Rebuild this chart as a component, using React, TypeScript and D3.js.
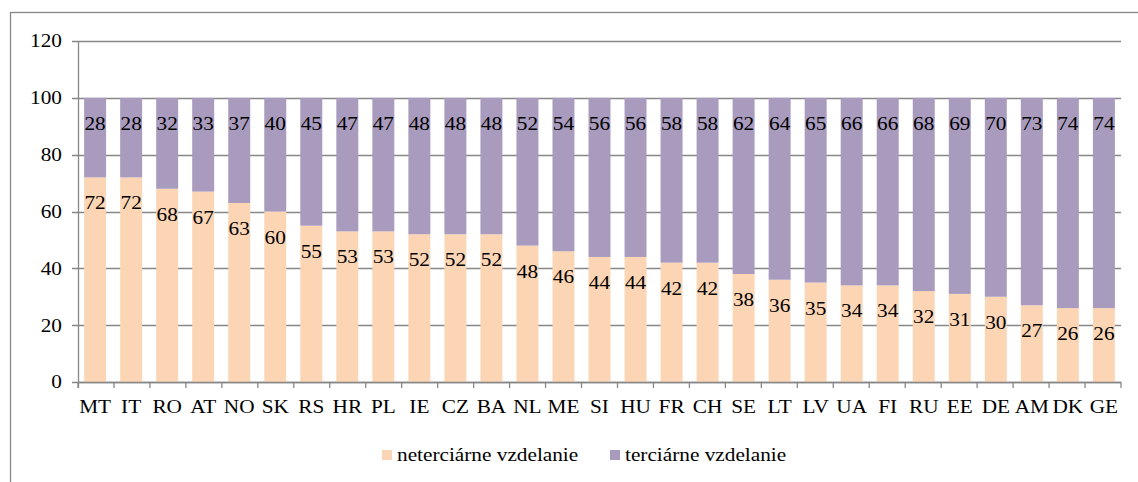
import React from "react";
import { scaleBand, scaleLinear, stack, range } from "d3";

const width = 1138;
const height = 482;
const margin = { top: 41, right: 17, bottom: 100, left: 78 };
const fontFamily = "Liberation Serif";
const fontSize = 19;
const stretch = 1.12;

const countries = [
  "MT", "IT", "RO", "AT", "NO", "SK", "RS", "HR", "PL", "IE",
  "CZ", "BA", "NL", "ME", "SI", "HU", "FR", "CH", "SE", "LT",
  "LV", "UA", "FI", "RU", "EE", "DE", "AM", "DK", "GE",
];
const nonTertiary = [
  72, 72, 68, 67, 63, 60, 55, 53, 53, 52,
  52, 52, 48, 46, 44, 44, 42, 42, 38, 36,
  35, 34, 34, 32, 31, 30, 27, 26, 26,
];
const tertiary = [
  28, 28, 32, 33, 37, 40, 45, 47, 47, 48,
  48, 48, 52, 54, 56, 56, 58, 58, 62, 64,
  65, 66, 66, 68, 69, 70, 73, 74, 74,
];
const seriesNames = ["neterciárne vzdelanie", "terciárne vzdelanie"];
const seriesColors = ["#FCD5B5", "#A99BBE"];
const yTicks = [0, 20, 40, 60, 80, 100, 120];

const gridColor = "#878787";

const innerW = width - margin.left - margin.right;
const innerH = height - margin.top - margin.bottom;

const x = scaleBand().domain(countries).range([0, innerW]).paddingInner(0.39).paddingOuter(0.17);
const xBand = innerW / countries.length;
const y = scaleLinear().domain([0, 120]).range([innerH, 0]);

const rows = countries.map((c, i) => ({ country: c, a: nonTertiary[i], b: tertiary[i] }));
const stacked = stack().keys(["a", "b"])(rows as any);

// the source picture is a bit wider than tall, so the serif text gets stretched
function Label({ px, py, anchor = "middle", children }) {
  return (
    <text
      transform={`translate(${px},${py}) scale(${stretch},1)`}
      textAnchor={anchor}
      fontFamily={fontFamily}
      fontSize={fontSize}
      fill="#000"
    >
      {children}
    </text>
  );
}

export default function App() {
  return (
    <div style={{ position: "absolute", left: 0, top: 0 }}>
      <svg width={width} height={height} style={{ display: "block", background: "#fff" }}>
        <rect x={10.5} y={12.5} width={1300} height={600} fill="none" stroke={gridColor} strokeWidth={1.3} />
        <g transform={`translate(${margin.left},${margin.top})`}>
          {yTicks.map((t) => (
            <g key={`y${t}`}>
              <line x1={-6} x2={innerW} y1={Math.round(y(t)) + 0.5} y2={Math.round(y(t)) + 0.5} stroke={gridColor} strokeWidth={1.3} />
              <Label px={-16} py={y(t) + 6.4} anchor="end">{t}</Label>
            </g>
          ))}
          {stacked.map((layer, li) =>
            layer.map((d, i) => (
              <rect
                key={`bar${li}-${i}`}
                x={x(countries[i])}
                y={y(d[1])}
                width={x.bandwidth()}
                height={y(d[0]) - y(d[1])}
                fill={seriesColors[li]}
              />
            ))
          )}
          {stacked.map((layer, li) =>
            layer.map((d, i) => (
              <Label key={`lab${li}-${i}`} px={x(countries[i]) + x.bandwidth() / 2} py={y(d[1]) + 32}>
                {d[1] - d[0]}
              </Label>
            ))
          )}
          <line x1={0.5} x2={0.5} y1={0} y2={innerH + 6} stroke={gridColor} strokeWidth={1.3} />
          <line x1={0} x2={innerW} y1={innerH + 0.5} y2={innerH + 0.5} stroke={gridColor} strokeWidth={1.3} />
          {range(countries.length + 1).map((i) => (
            <line
              key={`xt${i}`}
              x1={i * xBand}
              x2={i * xBand}
              y1={innerH}
              y2={innerH + 6}
              stroke={gridColor}
              strokeWidth={1.3}
            />
          ))}
          {countries.map((c) => (
            <Label key={`xl${c}`} px={x(c) + x.bandwidth() / 2} py={innerH + 31}>
              {c}
            </Label>
          ))}
        </g>
        <g>
          {seriesNames.map((s, i) => {
            const lx = [382, 610][i];
            return (
              <g key={s}>
                <rect x={lx} y={450} width={10} height={10} fill={seriesColors[i]} />
                <Label px={lx + 15} py={461} anchor="start">{s}</Label>
              </g>
            );
          })}
        </g>
      </svg>
    </div>
  );
}
